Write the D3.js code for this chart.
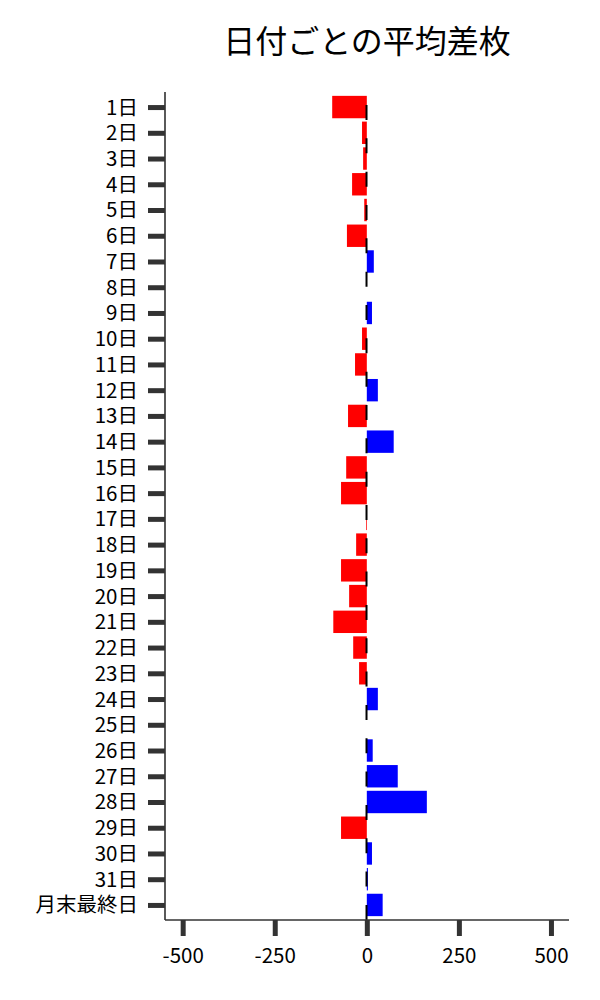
<!DOCTYPE html>
<html>
<head>
<meta charset="utf-8">
<script src="https://cdn.jsdelivr.net/npm/d3@7"></script>
<style>
  html, body { margin: 0; padding: 0; background: #fff; }
  svg { display: block; font-family: "Noto Sans CJK JP", "Noto Sans", sans-serif; }
</style>
</head>
<body>
<svg id="chart" width="600" height="1000"></svg>
<script>
const title = "日付ごとの平均差枚";
const categories = ["1日","2日","3日","4日","5日","6日","7日","8日","9日","10日","11日","12日","13日","14日","15日","16日","17日","18日","19日","20日","21日","22日","23日","24日","25日","26日","27日","28日","29日","30日","31日","月末最終日"];
const values = [-94, -13, -10, -40, -7, -54, 19, 0, 14, -13, -32, 30, -51, 73, -56, -70, -2, -29, -70, -48, -91, -37, -21, 30, 0, 16, 84, 163, -70, 14, 3, 43];
const xTicks = [-500, -250, 0, 250, 500];
const xDomain = [-548, 549];

const svg = d3.select("#chart");
const mLeft = 165, mRight = 569, mTop = 92, mBottom = 920;
const fam = "'Noto Sans CJK JP', sans-serif";

const x = d3.scaleLinear().domain(xDomain).range([mLeft, mRight]);
const y = d3.scalePoint().domain(categories).range([mTop, mBottom]).padding(0.585);
const step = y.step();
const barH = step * 0.87;

// bars
svg.append("g").selectAll("rect")
  .data(categories.map((c, i) => ({c, v: values[i]})))
  .join("rect")
  .attr("x", d => x(Math.min(0, d.v)))
  .attr("width", d => Math.abs(x(d.v) - x(0)))
  .attr("y", d => y(d.c) - barH / 2)
  .attr("height", barH)
  .attr("fill", d => d.v >= 0 ? "#0000ff" : "#ff0000");

// dashed zero line
svg.append("line")
  .attr("x1", x(0) - 0.3).attr("x2", x(0) - 0.3)
  .attr("y1", mTop).attr("y2", mBottom)
  .attr("stroke", "#000")
  .attr("stroke-width", 2)
  .attr("stroke-dasharray", "15 18.33")
  .attr("stroke-dashoffset", 20.33);

// y axis
const yAxis = svg.append("g")
  .attr("transform", `translate(${mLeft},0)`)
  .call(d3.axisLeft(y).tickSize(17).tickPadding(10));
yAxis.select(".domain").attr("stroke", "#000").attr("stroke-width", 1.3)
  .attr("d", `M0,${mTop}V${mBottom}`);
yAxis.selectAll(".tick line").attr("stroke", "#333").attr("stroke-width", 5);
yAxis.selectAll(".tick text").attr("font-size", 20.5).attr("fill", "#000")
  .attr("font-family", fam).attr("dy", "0.34em");

// x axis
const xAxis = svg.append("g")
  .attr("transform", `translate(0,${mBottom})`)
  .call(d3.axisBottom(x).tickValues(xTicks).tickFormat(d => String(d)).tickSize(16).tickPadding(12));
xAxis.select(".domain").attr("stroke", "#333").attr("stroke-width", 1.3)
  .attr("d", `M${mLeft},0H${mRight}`);
xAxis.selectAll(".tick line").attr("stroke", "#333").attr("stroke-width", 5);
xAxis.selectAll(".tick text").attr("font-size", 20.5).attr("fill", "#000")
  .attr("font-family", fam);

// title
svg.append("text")
  .attr("x", (mLeft + mRight) / 2)
  .attr("y", 53)
  .attr("text-anchor", "middle")
  .attr("font-size", 32)
  .attr("fill", "#000")
  .attr("font-family", fam)
  .text(title);
</script>
</body>
</html>
